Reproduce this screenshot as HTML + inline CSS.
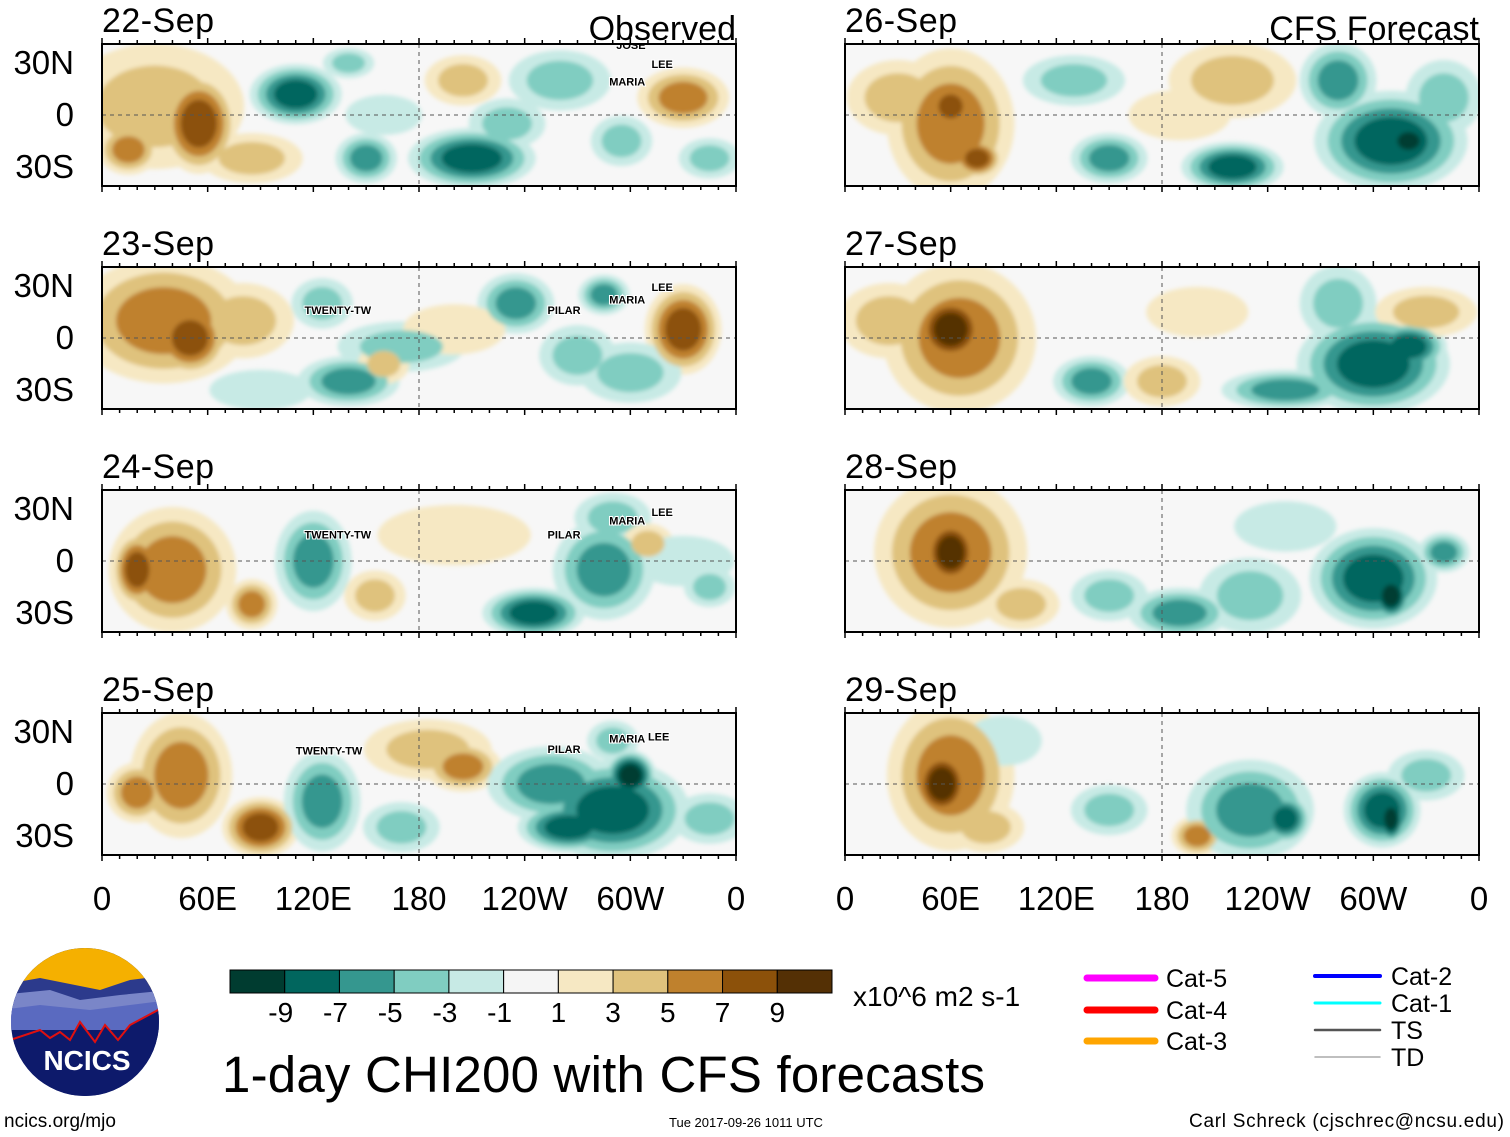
<!DOCTYPE html>
<html><head><meta charset="utf-8">
<style>
body{margin:0;background:#fff;}
svg{display:block;font-family:"Liberation Sans",sans-serif;}
</style></head>
<body>
<svg id="fig" width="1510" height="1137" viewBox="0 0 1510 1137">
<defs>
<filter id="soft" x="-10%" y="-10%" width="120%" height="120%"><feGaussianBlur stdDeviation="2"/></filter>
<clipPath id="logoClip"><circle cx="85" cy="1022" r="74"/></clipPath>
</defs>
<g id="panels"></g>
<g id="colorbar"></g>
<text x="853" y="1006" font-size="28">x10^6 m2 s-1</text>
<text x="222" y="1092" font-size="51" textLength="763">1-day CHI200 with CFS forecasts</text>
<text x="4" y="1127" font-size="19">ncics.org/mjo</text>
<text x="669" y="1127" font-size="13">Tue 2017-09-26 1011 UTC</text>
<text x="1504" y="1127" font-size="19" text-anchor="end" textLength="315">Carl Schreck (cjschrec@ncsu.edu)</text>
<g clip-path="url(#logoClip)">
<rect x="0" y="940" width="170" height="170" fill="#0d1a6b"/>
<rect x="0" y="940" width="170" height="50" fill="#f5b000"/>
<path d="M0 985 L40 978 L70 984 L100 990 L130 980 L170 975 L170 1010 L0 1010Z" fill="#2c3a8c"/>
<path d="M0 995 L50 990 L80 1000 L120 995 L170 990 L170 1030 L0 1030Z" fill="#7a86c8"/>
<path d="M0 1010 L40 1005 L90 1010 L170 1000 L170 1030 L0 1030Z" fill="#5a6ac0"/>
<path d="M10 1040 L40 1030 L50 1038 L60 1032 L70 1040 L80 1022 L95 1042 L105 1025 L118 1040 L130 1025 L158 1010 L170 1000 L170 1110 L0 1110Z" fill="#0d1a6b" stroke="#e01010" stroke-width="2"/>
<text x="87" y="1070" font-size="28" font-weight="bold" fill="#fff" text-anchor="middle">NCICS</text>
</g>
<g id="legend"></g>
</svg>
<script>
const levelColorsNeg=['#c7eae5','#80cdc1','#35978f','#01665e','#003c30'];
const levelColorsPos=['#f6e8c3','#dfc27d','#bf812d','#8c510a','#543005'];
const cbColors=['#003c30','#01665e','#35978f','#80cdc1','#c7eae5','#f5f5f5','#f6e8c3','#dfc27d','#bf812d','#8c510a','#543005'];
const cbLabels=['-9','-7','-5','-3','-1','1','3','5','7','9'];
const panelDates=['22-Sep','23-Sep','24-Sep','25-Sep','26-Sep','27-Sep','28-Sep','29-Sep'];
const latTicks=[30,0,-30];
const latLabels=['30N','0','30S'];
const lonTicks=[0,60,120,180,240,300,360];
const lonLabels=['0','60E','120E','180','120W','60W','0'];
// blobs: [lon, lat, rxDeg, ryDeg, value]
const blobs0=[[30,5,35,25,3],[55,-5,15,20,7],[15,-20,12,10,5],[85,-25,20,10,3],[110,12,18,12,-7],[140,30,10,6,-3],[150,-25,12,10,-5],[210,-25,25,12,-7],[230,-5,15,10,-3],[205,20,15,10,3],[260,20,20,12,-3],[330,10,18,12,5],[295,-15,12,10,-3],[345,-25,12,8,-3],[160,0,15,8,-1]];
const blobs1=[[35,10,35,25,5],[50,0,15,15,7],[80,10,20,15,3],[125,20,12,10,-3],[140,-25,20,10,-5],[170,-5,25,10,-3],[235,20,15,12,-5],[285,25,10,8,-5],[330,5,15,18,7],[270,-10,15,12,-3],[300,-20,20,12,-3],[160,-15,10,8,3],[90,-30,20,8,-1],[200,5,20,10,1]];
const blobs2=[[40,-5,25,25,5],[20,-5,10,15,7],[85,-25,10,10,5],[120,0,15,20,-5],[155,-20,12,10,3],[245,-30,20,10,-7],[285,-5,20,20,-5],[290,25,15,10,-3],[310,10,10,8,3],[330,0,20,10,-1],[200,15,30,12,1],[345,-15,10,8,-3]];
const blobs3=[[45,5,20,25,5],[20,-5,12,12,5],[90,-25,15,12,7],[125,-10,15,20,-5],[170,-25,15,10,-3],[185,20,25,12,3],[205,10,15,10,5],[255,0,25,15,-5],[290,-15,30,20,-7],[300,5,10,10,-9],[265,-25,20,10,-7],[290,25,10,8,-3],[345,-20,15,10,-3]];
const blobs4=[[60,-5,25,30,5],[60,5,10,10,7],[75,-25,10,8,7],[30,10,20,15,3],[130,20,20,10,-3],[150,-25,15,10,-5],[220,-30,20,10,-7],[220,20,25,15,3],[280,20,15,15,-5],[310,-15,30,20,-7],[320,-15,10,8,-9],[340,10,15,15,-3],[190,0,20,10,1]];
const blobs5=[[65,0,30,30,5],[60,5,15,15,9],[25,10,20,15,3],[140,-25,15,10,-5],[180,-25,15,10,3],[250,-30,25,8,-5],[300,-15,30,20,-7],[320,-5,15,10,-7],[280,20,15,15,-3],[330,15,20,10,3],[200,15,20,10,1]];
const blobs6=[[60,5,30,30,5],[60,5,12,15,9],[100,-25,15,10,3],[190,-30,20,10,-5],[150,-20,15,10,-3],[300,-10,25,20,-7],[310,-20,8,10,-9],[340,5,10,8,-5],[230,-20,20,15,-3],[250,20,20,10,-1]];
const blobs7=[[60,5,25,30,5],[55,0,12,15,9],[80,-25,15,10,3],[200,-30,10,8,5],[230,-15,25,20,-5],[250,-20,10,10,-7],[305,-15,15,15,-7],[310,-20,6,10,-9],[150,-15,15,10,-3],[330,5,15,10,-3],[90,25,15,10,-1]];
const allBlobs=[blobs0,blobs1,blobs2,blobs3,blobs4,blobs5,blobs6,blobs7];
const storms=[[['JOSE',292,38],['LEE',312,27],['MARIA',288,17]],[['TWENTY-TW',115,14],['PILAR',253,14],['MARIA',288,20],['LEE',312,27]],[['TWENTY-TW',115,13],['PILAR',253,13],['MARIA',288,21],['LEE',312,26]],[['TWENTY-TW',110,17],['PILAR',253,18],['MARIA',288,24],['LEE',310,25]],[],[],[],[]];

const NS='http://www.w3.org/2000/svg';
function mk(tag,attrs,parent){const e=document.createElementNS(NS,tag);for(const k in attrs)e.setAttribute(k,attrs[k]);parent.appendChild(e);return e;}
const panelsG=document.getElementById('panels');
const PW=634,PH=142,SZ=1.45;
const colX=[102,845];
const rowY=[44,267,490,713];
for(let p=0;p<8;p++){
  const x0=colX[p<4?0:1],y0=rowY[p%4];
  const xs=lon=>x0+lon/360*PW;
  const ys=lat=>y0+PH/2-lat*(PH/82);
  const g=mk('g',{},panelsG);
  
  
  const cid='clip'+p;
  const cp=mk('clipPath',{id:cid},g);mk('rect',{x:x0,y:y0,width:PW,height:PH},cp);
  mk('rect',{x:x0,y:y0,width:PW,height:PH,fill:'#f7f7f7'},g);
  const fg=mk('g',{'clip-path':'url(#'+cid+')'},g);
  const inner=mk('g',{filter:'url(#soft)'},fg);
  const bl=allBlobs[p];
  for(let k=0;k<5;k++){
    bl.forEach(b=>{
      const n=Math.min(5,Math.round((Math.abs(b[4])+1)/2));
      if(k>=n)return;
      const cols=b[4]<0?levelColorsNeg:levelColorsPos;
      const s=SZ*(1-k/n*0.7);
      const e=mk('ellipse',{cx:xs(b[0]),cy:ys(b[1]),rx:b[2]*s*PW/360,ry:b[3]*s*PH/82,fill:cols[k]},inner);
      
      
    });
  }
  mk('line',{x1:x0,x2:x0+PW,y1:ys(0),y2:ys(0),stroke:'#555','stroke-dasharray':'4,4','stroke-width':1},g);
  mk('line',{x1:xs(180),x2:xs(180),y1:y0,y2:y0+PH,stroke:'#555','stroke-dasharray':'4,4','stroke-width':1},g);
  mk('rect',{x:x0,y:y0,width:PW,height:PH,fill:'none',stroke:'#000','stroke-width':2},g);
  for(let l=0;l<=360;l+=10){
    const big=l%60===0;
    mk('line',{x1:xs(l),x2:xs(l),y1:y0,y2:y0+(big?-6:-4),stroke:'#000','stroke-width':1.5},g);
    mk('line',{x1:xs(l),x2:xs(l),y1:y0+PH,y2:y0+PH+(big?6:4),stroke:'#000','stroke-width':1.5},g);
  }
  const t=mk('text',{x:x0,y:y0-12,'font-size':34,textLength:112},g);t.textContent=panelDates[p];
  
  if(p%4===0){const tt=mk('text',{x:x0+PW,y:y0-4,'font-size':34,'text-anchor':'end'},g);tt.textContent=p===0?'Observed':'CFS Forecast';
    }
  if(p<4){latTicks.forEach((la,i)=>{const lt=mk('text',{x:74,y:ys(la)+11,'font-size':33,'text-anchor':'end'},g);lt.textContent=latLabels[i];
    });}
  if(p%4===3){lonTicks.forEach((lo,i)=>{const lt=mk('text',{x:xs(lo),y:910,'font-size':33,'text-anchor':'middle'},g);lt.textContent=lonLabels[i];
    });}
  storms[p].forEach(s=>{const st=mk('text',{x:xs(s[1]),y:ys(s[2]),'font-size':11,'font-weight':'bold',stroke:'#fff','stroke-width':2,'paint-order':'stroke'},fg);st.textContent=s[0];
    });
}
const cb=document.getElementById('colorbar');
const cbx=230,cbw=602,cby=970,cbh=23,bw=cbw/cbColors.length;
cbColors.forEach((c,i)=>{const r=mk('rect',{x:cbx+i*bw,y:cby,width:bw,height:cbh,fill:c,stroke:'#000','stroke-width':1},cb);
  });
cbLabels.forEach((l,i)=>{const t=mk('text',{x:cbx+(i+1)*bw-(l.startsWith('-')?4:0),y:1022,'font-size':28,'text-anchor':'middle'},cb);t.textContent=l;
  });
const lg=document.getElementById('legend');
const legItems=[['Cat-5','#ff00ff',1087,978,7],['Cat-4','#ff0000',1087,1010,7],['Cat-3','#ffa500',1087,1041,7],['Cat-2','#0000ff',1315,976,4],['Cat-1','#00ffff',1315,1003,3],['TS','#555555',1315,1030,2.5],['TD','#aaaaaa',1315,1057,1.5]];
legItems.forEach(it=>{const g=mk('g',{},lg);
  mk('line',{x1:it[2],x2:it[2]+(it[2]<1200?68:65),y1:it[3],y2:it[3],stroke:it[1],'stroke-width':it[4],'stroke-linecap':'round'},g);
  const t=mk('text',{x:it[2]+(it[2]<1200?79:76),y:it[3]+9,'font-size':25},g);t.textContent=it[0];});
</script>
</body></html>
